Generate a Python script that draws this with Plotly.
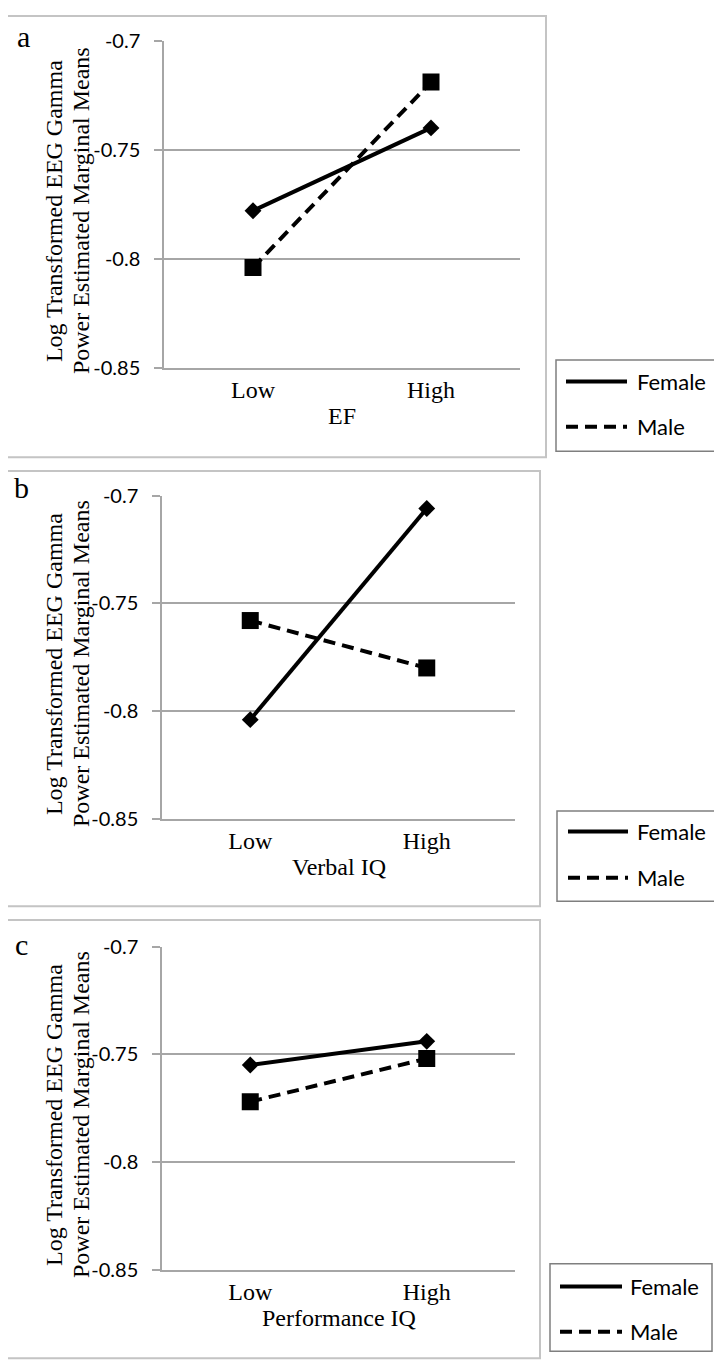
import plotly.graph_objects as go

W, H = 722, 1372
# la page html garde la marge par defaut du body (8 px)
BODY_MARGIN = 8

# donnees
categories = ['Low', 'High']
series_names = ['Female', 'Male']
female_ef = [-0.778, -0.740]
male_ef = [-0.804, -0.719]
female_verbal = [-0.804, -0.706]
male_verbal = [-0.758, -0.780]
female_perf = [-0.755, -0.744]
male_perf = [-0.772, -0.752]
y_tickvals = [-0.85, -0.8, -0.75, -0.7]
y_ticktext = ['-0.85', '-0.8', '-0.75', '-0.7']
panel_letters = ['a', 'b', 'c']
x_titles = ['EF', 'Verbal IQ', 'Performance IQ']
y_title_lines = ['Log Transformed EEG Gamma', 'Power Estimated Marginal Means']

female_series = [female_ef, female_verbal, female_perf]
male_series = [male_ef, male_verbal, male_perf]

GRID = '#a6a6a6'
FRAME = '#c4c4c4'
SERIF = 'Liberation Serif'
SANS = 'Lato'

# geometrie des panneaux, en pixels de l'image de reference
PANELS = [
    dict(frame=(3, 3, 546, 452), plot=(164, 28, 520, 361),
         legend=(556, 353, 718, 446), line_x=(566, 627), text_x=635,
         rows=(375, 421), letter=(23, 24), title_y=410),
    dict(frame=(3, 466, 540, 909), plot=(162, 491, 515, 820),
         legend=(557, 812, 718, 904), line_x=(568, 628), text_x=635,
         rows=(833, 880), letter=(22, 483), title_y=869),
    dict(frame=(3, 923, 540, 1369), plot=(162, 950, 515, 1279),
         legend=(550, 1273, 712, 1362), line_x=(560, 622), text_x=628,
         rows=(1296, 1342), letter=(22, 948), title_y=1328),
]


def px(x):
    return (x - BODY_MARGIN) / W


def py(y):
    return 1 - (y - BODY_MARGIN) / H


fig = go.Figure()
shapes = []
annotations = []

for i, p in enumerate(PANELS):
    n = '' if i == 0 else str(i + 1)
    xa, ya = 'x' + n, 'y' + n

    fig.add_trace(go.Scatter(
        x=categories, y=female_series[i], name=series_names[0],
        xaxis=xa, yaxis=ya, mode='lines+markers', showlegend=False,
        line=dict(color='black', width=4),
        marker=dict(symbol='diamond', size=13, color='black')
    ))
    fig.add_trace(go.Scatter(
        x=categories, y=male_series[i], name=series_names[1],
        xaxis=xa, yaxis=ya, mode='lines+markers', showlegend=False,
        line=dict(color='black', width=4, dash='12px,7px'),
        marker=dict(symbol='square', size=17, color='black')
    ))

    x0, y0, x1, y1 = p['plot']
    fig.update_layout(**{
        'xaxis' + n: dict(
            domain=[px(x0), px(x1)], anchor=ya, type='category',
            range=[-0.5, 1.5], showgrid=False, showline=True,
            linecolor=GRID, linewidth=1.5, ticks='', fixedrange=True,
            tickfont=dict(family=SERIF, size=24, color='black')
        ),
        'yaxis' + n: dict(
            domain=[py(y1), py(y0)], anchor=xa, range=[-0.85, -0.7],
            tickvals=y_tickvals, ticktext=y_ticktext,
            showgrid=True, gridcolor=GRID, gridwidth=1.5,
            showline=True, linecolor=GRID, linewidth=1.5,
            ticks='outside', ticklen=8, tickcolor=GRID, tickwidth=1.5,
            ticklabelstandoff=10, zeroline=False, fixedrange=True,
            tickfont=dict(family=SANS, size=20, color='black')
        ),
    })

    # cadre du panneau
    fx0, fy0, fx1, fy1 = p['frame']
    shapes.append(dict(type='rect', xref='paper', yref='paper',
                       x0=px(fx0), x1=px(fx1), y0=py(fy1), y1=py(fy0),
                       line=dict(color=FRAME, width=2)))

    # lettre du panneau
    annotations.append(dict(text=panel_letters[i], xref='paper', yref='paper',
                            x=px(p['letter'][0]), y=py(p['letter'][1]),
                            showarrow=False, xanchor='center', yanchor='middle',
                            font=dict(family=SERIF, size=30, color='black')))

    # titre de l'axe x
    annotations.append(dict(text=x_titles[i], xref='paper', yref='paper',
                            x=px((x0 + x1) / 2), y=py(p['title_y']),
                            showarrow=False, xanchor='center', yanchor='middle',
                            font=dict(family=SERIF, size=24, color='black')))

    # titre de l'axe y, deux lignes
    yc = (y0 + y1) / 2 + 7
    for k, line in enumerate(y_title_lines):
        annotations.append(dict(text=line, xref='paper', yref='paper',
                                x=px(54 + 27 * k), y=py(yc), textangle=-90,
                                showarrow=False, xanchor='center', yanchor='middle',
                                font=dict(family=SERIF, size=24, color='black')))

    # legende
    lx0, ly0, lx1, ly1 = p['legend']
    shapes.append(dict(type='rect', xref='paper', yref='paper',
                       x0=px(lx0), x1=px(lx1), y0=py(ly1), y1=py(ly0),
                       line=dict(color='#7f7f7f', width=1.5)))
    for k, name in enumerate(series_names):
        ry = p['rows'][k]
        shapes.append(dict(type='line', xref='paper', yref='paper',
                           x0=px(p['line_x'][0]), x1=px(p['line_x'][1]),
                           y0=py(ry), y1=py(ry),
                           line=dict(color='black', width=4,
                                     dash='solid' if k == 0 else '12px,7px')))
        annotations.append(dict(text=name, xref='paper', yref='paper',
                                x=px(p['text_x']), y=py(ry),
                                showarrow=False, xanchor='left', yanchor='middle',
                                font=dict(family=SANS, size=22, color='black')))

fig.update_layout(
    width=W, height=H,
    margin=dict(l=0, r=0, t=0, b=0),
    paper_bgcolor='white', plot_bgcolor='white',
    showlegend=False,
    shapes=shapes, annotations=annotations
)

fig.write_html("out.html")
